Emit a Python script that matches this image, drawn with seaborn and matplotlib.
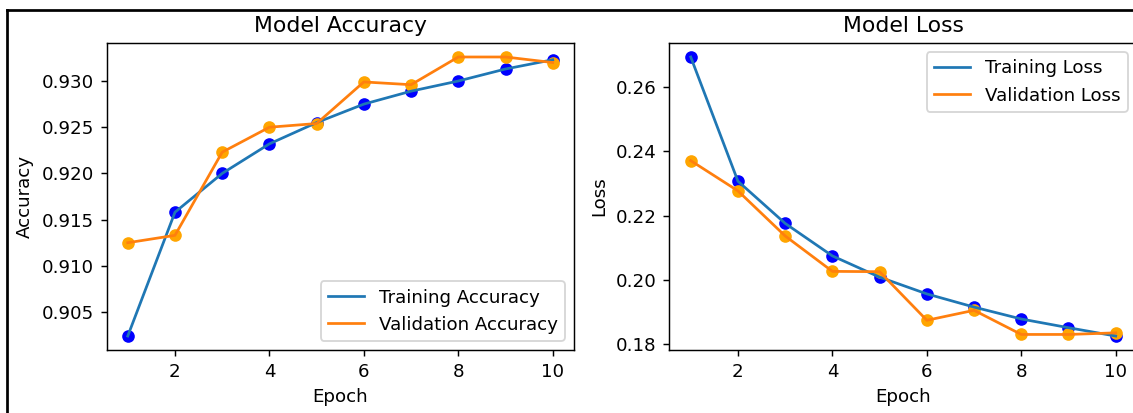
import matplotlib
matplotlib.use('Agg')
import pandas as pd
import seaborn as sns
import matplotlib.pyplot as plt
from matplotlib.lines import Line2D

# Training history
epochs = [1, 2, 3, 4, 5, 6, 7, 8, 9, 10]
train_acc = [0.9024, 0.9158, 0.9200, 0.9232, 0.9255, 0.9275, 0.9289, 0.9300, 0.9313, 0.9323]
val_acc = [0.9125, 0.9133, 0.9223, 0.9250, 0.9254, 0.9299, 0.9296, 0.9326, 0.9326, 0.9320]
train_loss = [0.2693, 0.2307, 0.2176, 0.2075, 0.2009, 0.1957, 0.1916, 0.1879, 0.1852, 0.1826]
val_loss = [0.2371, 0.2277, 0.2137, 0.2027, 0.2026, 0.1875, 0.1906, 0.1831, 0.1831, 0.1836]

df = pd.DataFrame({'Epoch': epochs, 'acc': train_acc, 'val_acc': val_acc,
                   'loss': train_loss, 'val_loss': val_loss})

DPI = 131
fig = plt.figure(figsize=(1133 / DPI, 413 / DPI), dpi=DPI)

# axes placed to match the cropped screenshot
ax1 = fig.add_axes([0.094, 0.1525, 0.4126, 0.7433])
ax2 = fig.add_axes([0.5909, 0.1525, 0.4126, 0.7433])

# Accuracy
sns.lineplot(x='Epoch', y='acc', data=df, ax=ax1, label='Training Accuracy')
sns.lineplot(x='Epoch', y='val_acc', data=df, ax=ax1, label='Validation Accuracy')
sns.scatterplot(x='Epoch', y='acc', data=df, ax=ax1, color='blue', s=48, linewidth=0)
sns.scatterplot(x='Epoch', y='val_acc', data=df, ax=ax1, color='orange', s=48, linewidth=0)
ax1.set_title('Model Accuracy')
ax1.set_xlabel('Epoch')
ax1.set_ylabel('Accuracy')
ax1.legend(loc='lower right')

# Loss
sns.lineplot(x='Epoch', y='loss', data=df, ax=ax2, label='Training Loss')
sns.lineplot(x='Epoch', y='val_loss', data=df, ax=ax2, label='Validation Loss')
sns.scatterplot(x='Epoch', y='loss', data=df, ax=ax2, color='blue', s=48, linewidth=0)
sns.scatterplot(x='Epoch', y='val_loss', data=df, ax=ax2, color='orange', s=48, linewidth=0)
ax2.set_title('Model Loss')
ax2.set_xlabel('Epoch')
ax2.set_ylabel('Loss')
ax2.legend(loc='upper right')

# screenshot frame (top and left edges)
fig.add_artist(Line2D([0.0062, 1.0], [0.975, 0.975], color='black', lw=1.5))
fig.add_artist(Line2D([0.0062, 0.0062], [0.0, 0.975], color='black', lw=1.5))

fig.savefig('out.png', dpi=DPI)
